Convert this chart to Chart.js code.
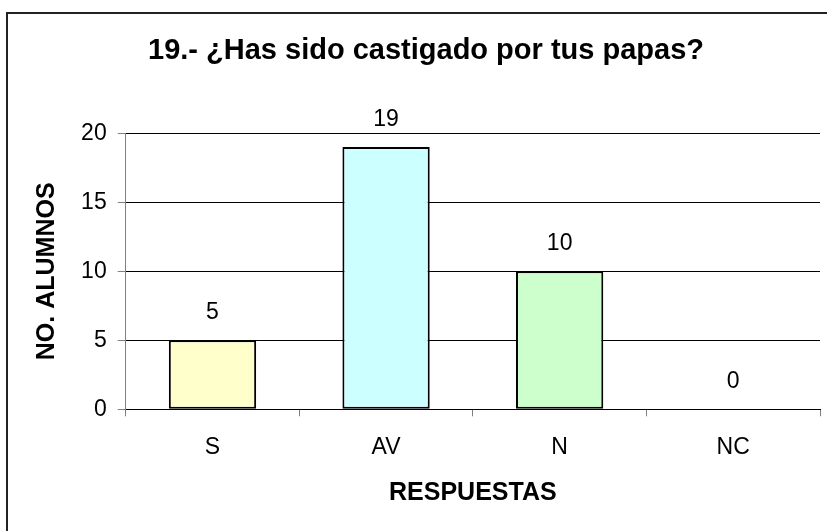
<!DOCTYPE html>
<html>
<head>
<meta charset="utf-8">
<script src="https://cdn.jsdelivr.net/npm/chart.js@4/dist/chart.umd.min.js"></script>
<style>
  html, body { margin: 0; padding: 0; background: #fff; }
  #wrap { width: 827px; height: 531px; }
</style>
</head>
<body>
<div id="wrap"><canvas id="c" width="827" height="531"></canvas></div>
<script>
const categories = ['S', 'AV', 'N', 'NC'];
const values = [5, 19, 10, 0];
const barColors = ['#FFFFCC', '#CCFFFF', '#CCFFCC', '#FFFFFF'];
const yTicks = [0, 5, 10, 15, 20];
const titleText = '19.- ¿Has sido castigado por tus papas?';
const xTitle = 'RESPUESTAS';
const yTitle = 'NO. ALUMNOS';

const FONT = "'Liberation Sans', Arial, sans-serif";

const frame = {
  id: 'frame',
  beforeDraw(chart) {
    const ctx = chart.ctx;
    ctx.save();
    ctx.fillStyle = '#fff';
    ctx.fillRect(0, 0, chart.width, chart.height);
    ctx.strokeStyle = '#222';
    ctx.lineWidth = 2;
    ctx.strokeRect(7, 13, 830, 530);
    ctx.restore();
  }
};

const valueLabels = {
  id: 'valueLabels',
  afterDatasetsDraw(chart) {
    const ctx = chart.ctx;
    const meta = chart.getDatasetMeta(0);
    ctx.save();
    ctx.fillStyle = '#000';
    ctx.font = '23px ' + FONT;
    ctx.textAlign = 'center';
    ctx.textBaseline = 'alphabetic';
    meta.data.forEach((el, i) => {
      ctx.fillText(String(values[i]), el.x, el.y - 21);
    });
    ctx.restore();
  }
};

new Chart(document.getElementById('c'), {
  type: 'bar',
  data: {
    labels: categories,
    datasets: [{
      data: values,
      backgroundColor: barColors,
      borderColor: '#000',
      borderWidth: 2,
      borderSkipped: false,
      barPercentage: 1,
      categoryPercentage: 0.503
    }]
  },
  options: {
    responsive: false,
    animation: false,
    devicePixelRatio: 1,
    layout: { padding: { left: 32, right: 7, top: 0, bottom: 0 } },
    plugins: {
      legend: { display: false },
      tooltip: { enabled: false },
      title: {
        display: true,
        text: titleText,
        color: '#000',
        font: { family: FONT, size: 29, weight: 'bold' },
        padding: { top: 33.6, bottom: 64.9 }
      }
    },
    scales: {
      x: {
        offset: true,
        grid: {
          offset: true,
          drawOnChartArea: false,
          drawTicks: true,
          tickLength: 7,
          tickColor: '#808080',
          color: '#808080'
        },
        border: { display: true, color: '#000', width: 1 },
        ticks: {
          color: '#000',
          font: { family: FONT, size: 23 },
          padding: 18,
          maxRotation: 0
        },
        title: {
          display: true,
          text: xTitle,
          color: '#000',
          font: { family: FONT, size: 25, weight: 'bold' },
          padding: { top: 0, bottom: 23 }
        },
        afterFit(s) { s.height = 531 - 409.3; }
      },
      y: {
        min: 0,
        max: 20,
        afterBuildTicks(s) { s.ticks = yTicks.map(v => ({ value: v })); },
        grid: {
          color: '#000',
          lineWidth: 1,
          drawTicks: true,
          tickLength: 8,
          tickColor: '#808080'
        },
        border: { display: true, color: '#808080', width: 1 },
        ticks: {
          color: '#000',
          font: { family: FONT, size: 23 },
          padding: 11
        },
        title: {
          display: true,
          text: yTitle,
          color: '#000',
          font: { family: FONT, size: 25, weight: 'bold' },
          padding: { top: 0.5, bottom: 0 }
        },
        afterFit(s) { s.width = 125.7 - 32; }
      }
    }
  },
  plugins: [frame, valueLabels]
});
</script>
</body>
</html>
